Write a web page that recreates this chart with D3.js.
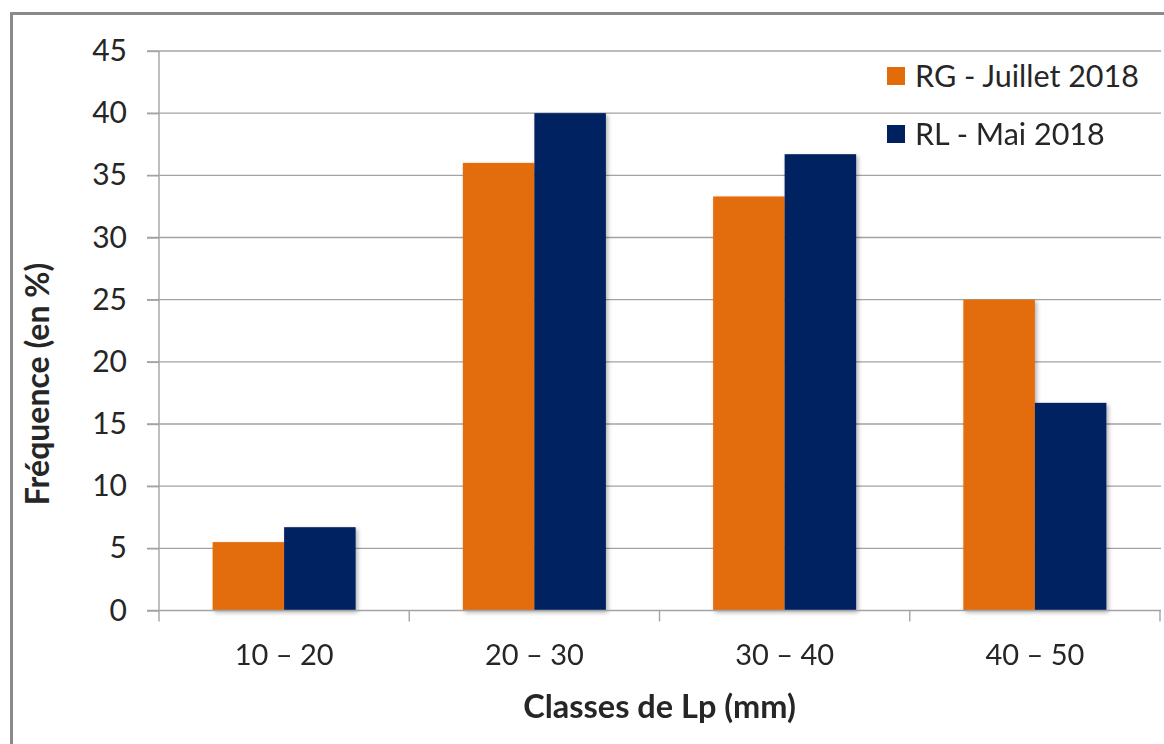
<!DOCTYPE html>
<html>
<head>
<meta charset="utf-8">
<script src="https://cdn.jsdelivr.net/npm/d3@7"></script>
<style>
  html, body { margin: 0; padding: 0; background: #fff; }
  svg { display: block; }
  text { font-family: Lato, "Open Sans", sans-serif; fill: #262626; }
</style>
</head>
<body>
<svg id="chart" width="1164" height="744"></svg>
<script>
// Size classes of Lp (mm)
const categories = ["10 – 20", "20 – 30", "30 – 40", "40 – 50"];
// Frequency (%) per campaign
const seriesNames = ["RG - Juillet 2018", "RL - Mai 2018"];
const rgJuillet2018 = [5.5, 36, 33.3, 25];
const rlMai2018 = [6.7, 40, 36.7, 16.7];
const seriesColors = ["#E36C0A", "#002060"];
const yTicks = [0, 5, 10, 15, 20, 25, 30, 35, 40, 45];

const svg = d3.select("#chart");

const plot = { left: 159, right: 1160, top: 51, bottom: 610.5 };

// Outer frame of the chart area
svg.append("rect")
  .attr("x", 11.5).attr("y", 13.5)
  .attr("width", 1200).attr("height", 800)
  .attr("fill", "none")
  .attr("stroke", "#8a8a8a")
  .attr("stroke-width", 3);

// Soft shadow under the bars
const defs = svg.append("defs");
const f = defs.append("filter").attr("id", "shadow")
  .attr("x", "-10%").attr("y", "-10%").attr("width", "130%").attr("height", "130%");
f.append("feDropShadow")
  .attr("dx", 2).attr("dy", 2).attr("stdDeviation", 2)
  .attr("flood-color", "#000").attr("flood-opacity", 0.3);

const y = d3.scaleLinear().domain([0, 45]).range([plot.bottom, plot.top]);

const x0 = d3.scaleBand()
  .domain(categories)
  .range([plot.left, plot.right])
  .paddingInner(1.5 / 3.5)
  .paddingOuter(0.75 / 3.5);

const x1 = d3.scaleBand()
  .domain(seriesNames)
  .range([0, x0.bandwidth()]);

// Horizontal gridlines
svg.append("g")
  .selectAll("line")
  .data(yTicks.filter(d => d > 0))
  .join("line")
  .attr("x1", plot.left - 12).attr("x2", plot.right + 1)
  .attr("y1", d => y(d)).attr("y2", d => y(d))
  .attr("stroke", "#a3a3a3")
  .attr("stroke-width", 1.4);

// Y axis
const yAxis = svg.append("g")
  .attr("transform", `translate(${plot.left},0)`)
  .call(d3.axisLeft(y).tickValues(yTicks).tickSize(12).tickPadding(20));
yAxis.select(".domain").attr("stroke", "#a3a3a3").attr("stroke-width", 1.4)
  .attr("d", `M0,${plot.top}V${plot.bottom}`);
yAxis.selectAll(".tick line").attr("stroke", "#a3a3a3").attr("stroke-width", 1.4);
yAxis.selectAll(".tick text")
  .style("font-family", "Lato, sans-serif")
  .attr("font-size", 30)
  .attr("fill", "#262626");

// Bars
const data = categories.map((c, i) => ({
  cat: c,
  values: [
    { name: seriesNames[0], value: rgJuillet2018[i], color: seriesColors[0] },
    { name: seriesNames[1], value: rlMai2018[i], color: seriesColors[1] }
  ]
}));

svg.append("g")
  .attr("filter", "url(#shadow)")
  .selectAll("g")
  .data(data)
  .join("g")
  .attr("transform", d => `translate(${x0(d.cat)},0)`)
  .selectAll("rect")
  .data(d => d.values)
  .join("rect")
  .attr("x", d => x1(d.name))
  .attr("width", x1.bandwidth())
  .attr("y", d => y(d.value))
  .attr("height", d => y(0) - y(d.value))
  .attr("fill", d => d.color);

// X axis line with category boundary ticks
const xg = svg.append("g");
xg.append("line")
  .attr("x1", plot.left - 12).attr("x2", plot.right + 1)
  .attr("y1", y(0)).attr("y2", y(0))
  .attr("stroke", "#a3a3a3").attr("stroke-width", 1.4);
const step = x0.step();
const boundaries = d3.range(categories.length + 1).map(i => plot.left + i * step);
xg.selectAll("line.tk")
  .data(boundaries)
  .join("line")
  .attr("class", "tk")
  .attr("x1", d => d).attr("x2", d => d)
  .attr("y1", y(0)).attr("y2", y(0) + 11)
  .attr("stroke", "#a3a3a3").attr("stroke-width", 1.4);
xg.selectAll("text")
  .data(categories)
  .join("text")
  .attr("x", d => x0(d) + x0.bandwidth() / 2)
  .attr("y", 665)
  .attr("text-anchor", "middle")
  .attr("font-size", 29)
  .text(d => d);

// Axis titles
svg.append("text")
  .attr("x", x0.range()[0] + (x0.range()[1] - x0.range()[0]) / 2)
  .attr("y", 718)
  .attr("text-anchor", "middle")
  .attr("font-size", 32.5)
  .attr("font-weight", "bold")
  .attr("fill", "#0d0d0d")
  .text("Classes de Lp (mm)");

svg.append("text")
  .attr("transform", "translate(49,384) rotate(-90)")
  .attr("text-anchor", "middle")
  .attr("font-size", 32)
  .attr("font-weight", "bold")
  .attr("fill", "#0d0d0d")
  .text("Fréquence (en %)");

// Legend
const legend = svg.append("g")
  .selectAll("g")
  .data(seriesNames)
  .join("g")
  .attr("transform", (d, i) => `translate(887,${67 + i * 58})`);
legend.append("rect")
  .attr("width", 18).attr("height", 18)
  .attr("fill", (d, i) => seriesColors[i]);
legend.append("text")
  .attr("x", 28).attr("y", 19.5)
  .attr("font-size", 30.5)
  .text(d => d);
</script>
</body>
</html>
